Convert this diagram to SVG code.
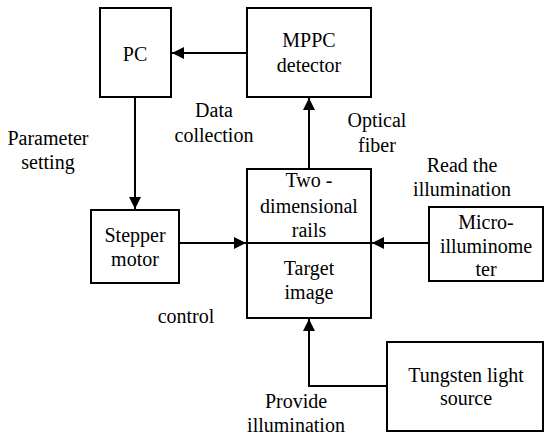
<svg xmlns="http://www.w3.org/2000/svg" width="550" height="442" viewBox="0 0 550 442">
<style>
.box{fill:#fff;stroke:#000;stroke-width:2}
.ln{fill:none;stroke:#000;stroke-width:2}
.t{font-size:20px;fill:#000;text-anchor:middle}
</style>
<defs>
<marker id="ah" viewBox="0 0 10 10" refX="10" refY="5" markerWidth="6" markerHeight="6" orient="auto" markerUnits="strokeWidth">
<path d="M0,0 L10,5 L0,10 Z" fill="#000"/>
</marker>
</defs>
<rect width="550" height="442" fill="#fff"/>
<g id="connectors">
<line class="ln" x1="247" y1="53" x2="172" y2="53" marker-end="url(#ah)"/>
<line class="ln" x1="135" y1="97" x2="135" y2="209" marker-end="url(#ah)"/>
<line class="ln" x1="179" y1="243" x2="246" y2="243" marker-end="url(#ah)"/>
<line class="ln" x1="309" y1="169" x2="309" y2="98" marker-end="url(#ah)"/>
<line class="ln" x1="429" y1="243" x2="372" y2="243" marker-end="url(#ah)"/>
<polyline class="ln" points="387,386 309,386 309,319" marker-end="url(#ah)"/>
</g>
<g class="t" font-family="'Liberation Serif', 'DejaVu Serif', serif">
<g id="pc">
<rect class="box" x="100" y="8" width="71" height="89"/>
<text x="135" y="61">PC</text>
</g>
<g id="mppc">
<rect class="box" x="247" y="8" width="124" height="89"/>
<text x="309" y="47">MPPC</text>
<text x="309" y="72">detector</text>
</g>
<g id="stepper">
<rect class="box" x="91" y="210" width="88" height="73"/>
<text x="135" y="242">Stepper</text>
<text x="135" y="266">motor</text>
</g>
<g id="rails">
<rect class="box" x="247" y="169" width="124" height="149"/>
<line class="ln" x1="247" y1="243" x2="371" y2="243"/>
<text x="309" y="187">Two -</text>
<text x="309" y="213">dimensional</text>
<text x="309" y="237">rails</text>
<text x="309" y="275">Target</text>
<text x="309" y="299">image</text>
</g>
<g id="micro">
<rect class="box" x="429" y="207" width="114" height="74"/>
<text x="486" y="229">Micro-</text>
<text x="486" y="253">illuminome</text>
<text x="486" y="276">ter</text>
</g>
<g id="tungsten">
<rect class="box" x="387" y="342" width="156" height="89"/>
<text x="466" y="382">Tungsten light</text>
<text x="466" y="405">source</text>
</g>
<g id="labels">
<text x="214" y="117">Data</text>
<text x="214" y="142">collection</text>
<text x="48" y="145">Parameter</text>
<text x="48" y="169">setting</text>
<text x="377" y="127">Optical</text>
<text x="377" y="152">fiber</text>
<text x="462" y="172">Read the</text>
<text x="462" y="196">illumination</text>
<text x="186" y="323">control</text>
<text x="296" y="408">Provide</text>
<text x="296" y="432">illumination</text>
</g>
</g>
</svg>
